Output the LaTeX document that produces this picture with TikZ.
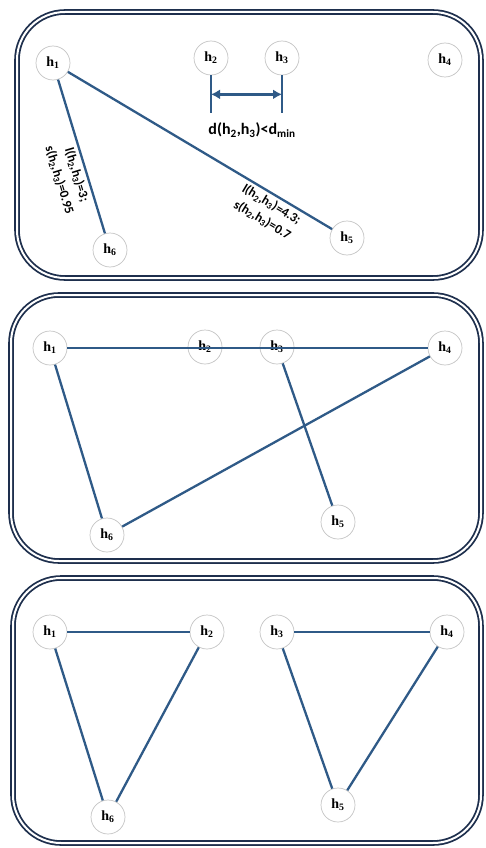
\documentclass[tikz,border=0pt]{standalone}
\usepackage{fontspec}
\setmainfont{Liberation Serif}
\newfontfamily\labelfont{Carlito}
\usetikzlibrary{arrows.meta, positioning, calc}
\definecolor{edgeblue}{HTML}{2F5A87}
\definecolor{framenavy}{HTML}{1E2F4D}
\definecolor{ringgray}{HTML}{C4C4C4}
\newcommand{\hn}[1]{h\textsubscript{#1}}
\tikzset{
	hostnode/.style={circle, draw=ringgray, line width=0.7pt, fill=white, minimum size=34pt, inner sep=0pt, font=\fontsize{14}{16}\selectfont\bfseries}
}
\tikzset{
	linkedge/.style={draw=edgeblue, line width=2.3pt}
}
\tikzset{
	panelframe/.style={draw=framenavy, double=white, double distance=2pt, line width=1.8pt, rounded corners=48pt}
}
\tikzset{
	weighttext/.style={font=\labelfont\bfseries\fontsize{13}{18}\selectfont, align=center, inner sep=3pt}
}
\tikzset{
	spanbar/.style={draw=edgeblue, line width=2.5pt},
	spanarrow/.style={draw=edgeblue, fill=edgeblue, line width=2.5pt, {Latex[length=9pt,width=10pt]}-{Latex[length=9pt,width=10pt]}}
}

\begin{document}
\begin{tikzpicture}[x=1pt, y=-1pt]

	\useasboundingbox (0,0) rectangle (486,848);

	\begin{scope}
		\draw[panelframe] (17,12) rectangle (481,278);

		\node[hostnode] (a1) at (53,63) {\hn{1}};
		\node[hostnode] (a2) at (211,58) {\hn{2}};
		\node[hostnode] (a3) at (282,58) {\hn{3}};
		\node[hostnode] (a4) at (445,60) {\hn{4}};
		\node[hostnode] (a5) at (347,238) {\hn{5}};
		\node[hostnode] (a6) at (110,250) {\hn{6}};

		\draw[linkedge] (a1) -- node[weighttext, sloped, below, pos=0.6] {l(\hn{2},\hn{3})=3;\\s(\hn{2},\hn{3})=0.95} (a6);
		\draw[linkedge] (a1) -- node[weighttext, sloped, below, pos=0.79] {l(\hn{2},\hn{3})=4.3;\\s(\hn{2},\hn{3})=0.7} (a5);

		\draw[spanbar] (a2.south) -- ++(0,38) coordinate (a2foot);
		\draw[spanbar] (a3.south) -- ++(0,38) coordinate (a3foot);
		\draw[spanarrow] ($(a2.south)!0.5!(a2foot)$) -- ($(a3.south)!0.5!(a3foot)$);
		\node[font=\labelfont\bfseries\fontsize{16}{18}\selectfont] (dlabel) at (252,130) {d(\hn{2},\hn{3})<d\textsubscript{min}};
	\end{scope}

	\begin{scope}
		\draw[panelframe] (11,295) rectangle (481,561);

		\node[hostnode] (b1) at (50,348) {\hn{1}};
		\node[hostnode] (b2) at (205,347) {\hn{2}};
		\node[hostnode] (b3) at (277,347) {\hn{3}};
		\node[hostnode] (b4) at (445,348) {\hn{4}};
		\node[hostnode] (b5) at (338,522) {\hn{5}};
		\node[hostnode] (b6) at (107,535) {\hn{6}};

		\draw[linkedge] (b1) -- (b4);
		\draw[linkedge] (b1) -- (b6);
		\draw[linkedge] (b3) -- (b5);
		\draw[linkedge] (b6) -- (b4);
	\end{scope}

	\begin{scope}
		\draw[panelframe] (13,578) rectangle (481,843);

		\node[hostnode] (c1) at (50,632) {\hn{1}};
		\node[hostnode] (c2) at (207,632) {\hn{2}};
		\node[hostnode] (c3) at (277,632) {\hn{3}};
		\node[hostnode] (c4) at (447,632) {\hn{4}};
		\node[hostnode] (c5) at (338,805) {\hn{5}};
		\node[hostnode] (c6) at (108,817) {\hn{6}};

		\draw[linkedge] (c1) -- (c2);
		\draw[linkedge] (c1) -- (c6);
		\draw[linkedge] (c2) -- (c6);
		\draw[linkedge] (c3) -- (c4);
		\draw[linkedge] (c3) -- (c5);
		\draw[linkedge] (c4) -- (c5);
	\end{scope}

\end{tikzpicture}
\end{document}
